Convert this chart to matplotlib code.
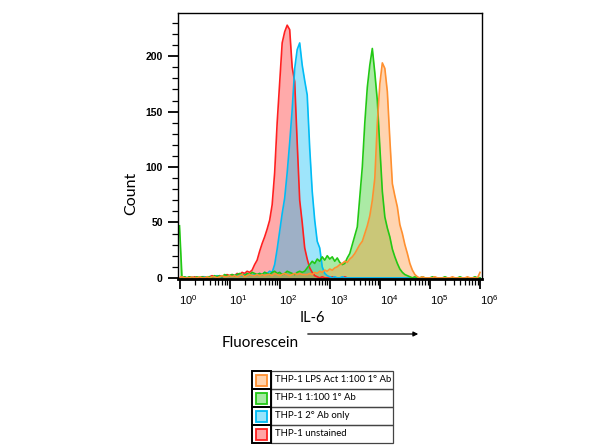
import numpy as np
import matplotlib
matplotlib.use("Agg")
import matplotlib.pyplot as plt
import matplotlib.transforms as mtrans
from matplotlib.patches import Rectangle, FancyArrowPatch
from matplotlib.ticker import MultipleLocator, LogLocator, NullFormatter

# channel grid in log10 units (bin centres), 0.05 decade wide
chan_log = np.round(np.arange(0, 6.0001, 0.05), 2)

unstained = [0, 1, 0, 0, 1, 0, 1, 0, 0, 1,
             1, 0, 1, 2, 1, 1, 2, 1, 2, 3,
             2, 3, 2, 4, 3, 5, 4, 6, 5, 7,
             12, 16, 24, 31, 37, 44, 52, 66, 95, 140,
             176, 212, 222, 228, 224, 190, 177, 122, 70, 50,
             27, 17, 9, 5, 2, 1, 0, 1, 0, 0,
             0, 1, 0, 0, 0, 0, 1, 0, 0, 0,
             0, 0, 0, 0, 0, 0, 0, 0, 0, 0,
             0, 0, 0, 0, 0, 0, 0, 0, 0, 0,
             0, 0, 0, 0, 0, 0, 0, 0, 0, 0,
             0, 0, 0, 0, 0, 0, 0, 0, 0, 0,
             0, 0, 0, 0, 0, 0, 0, 0, 0, 0,
             0]

sec_only = [0, 0, 1, 0, 0, 1, 0, 0, 1, 0,
            1, 0, 1, 1, 0, 2, 1, 1, 2, 1,
            2, 1, 2, 3, 2, 2, 3, 2, 3, 2,
            3, 3, 4, 3, 5, 4, 6, 5, 12, 26,
            42, 58, 72, 95, 122, 152, 189, 206, 212, 192,
            178, 165, 117, 78, 52, 33, 27, 10, 4, 2,
            1, 0, 1, 0, 0, 1, 0, 0, 0, 0,
            0, 0, 0, 0, 0, 0, 0, 0, 0, 0,
            0, 0, 0, 0, 0, 0, 0, 0, 0, 0,
            0, 0, 0, 0, 0, 0, 0, 0, 0, 0,
            0, 0, 0, 0, 0, 0, 0, 0, 0, 0,
            0, 0, 0, 0, 0, 0, 0, 0, 0, 0,
            0]

ab_1_100 = [47, 0, 1, 0, 1, 0, 0, 1, 0, 1,
            0, 1, 1, 0, 2, 1, 2, 1, 3, 2,
            2, 3, 2, 3, 4, 3, 2, 4, 3, 5,
            4, 3, 4, 3, 5, 4, 3, 5, 6, 4,
            5, 3, 4, 6, 5, 4, 3, 5, 6, 5,
            6, 9, 12, 15, 13, 17, 15, 19, 16, 20,
            17, 19, 15, 18, 14, 12, 13, 18, 22, 30,
            38, 46, 73, 100, 140, 172, 192, 207, 185, 160,
            118, 78, 55, 45, 37, 26, 19, 13, 8, 5,
            3, 2, 1, 0, 1, 0, 0, 1, 0, 0,
            0, 1, 0, 0, 0, 0, 1, 0, 0, 0,
            0, 0, 1, 0, 0, 0, 0, 0, 1, 0,
            0]

lps_act = [0, 1, 0, 0, 0, 1, 0, 0, 1, 0,
           0, 1, 0, 1, 1, 0, 1, 2, 1, 1,
           2, 1, 2, 1, 2, 3, 1, 2, 3, 2,
           2, 3, 2, 3, 2, 3, 3, 2, 4, 3,
           2, 3, 4, 3, 2, 3, 4, 3, 4, 3,
           3, 3, 4, 3, 5, 4, 6, 5, 7, 6,
           8, 7, 9, 10, 12, 13, 15, 14, 17, 19,
           22, 26, 30, 33, 40, 47, 56, 70, 90, 140,
           175, 194, 189, 168, 125, 85, 74, 64, 48, 40,
           30, 22, 13, 7, 3, 1, 0, 1, 0, 0,
           0, 0, 1, 0, 0, 0, 0, 0, 0, 1,
           0, 0, 0, 0, 0, 1, 0, 0, 0, 0,
           5]

series = [
    ("THP-1 unstained", unstained, "#ff2020"),
    ("THP-1 2\u00b0 Ab only", sec_only, "#00bcf5"),
    ("THP-1 1:100 1\u00b0 Ab", ab_1_100, "#22c814"),
    ("THP-1 LPS Act 1:100 1\u00b0 Ab", lps_act, "#ff9030"),
]

fig = plt.figure(figsize=(6.0, 4.47), dpi=100)
ax = fig.add_axes([178 / 600, 1 - 279 / 447, 304 / 600, 266 / 447])

x = 10 ** chan_log
for name, counts, col in series:
    ax.fill_between(x, 0, counts, color=col, alpha=0.38, lw=0)
    ax.plot(x, counts, color=col, lw=1.2)

ax.set_xscale("log")
ax.set_xlim(10 ** -0.03, 10 ** 6.04)
ax.set_ylim(-1, 239)

ax.yaxis.set_major_locator(MultipleLocator(50))
ax.yaxis.set_minor_locator(MultipleLocator(10))
ax.xaxis.set_major_locator(LogLocator(base=10, numticks=10))
ax.xaxis.set_minor_locator(LogLocator(base=10, subs=np.arange(2, 10), numticks=100))
ax.xaxis.set_minor_formatter(NullFormatter())
ax.tick_params(axis="both", which="major", direction="out", length=7, width=1.3, labelsize=7.5)
ax.tick_params(axis="both", which="minor", direction="out", length=4, width=0.9)
ax.tick_params(axis="x", which="major", pad=3, labelsize=8)
ax.tick_params(axis="y", which="major", pad=4)
fig.canvas.draw()
shift = mtrans.ScaledTranslation(9 / 100, 0, fig.dpi_scale_trans)
for lab in ax.get_xticklabels():
    lab.set_transform(lab.get_transform() + shift)
    lab.set_family("Liberation Sans")
for lab in ax.get_yticklabels():
    lab.set_fontweight("bold")
    lab.set_family("Liberation Sans")
ax.spines["bottom"].set_linewidth(2)
for s in ["left", "top", "right"]:
    ax.spines[s].set_linewidth(1)

ax.set_ylabel("Count", fontsize=11.5, family="Lato")
ax.yaxis.set_label_coords(-0.13, 0.323)
fig.text(312 / 600, 1 - 318 / 447, "IL-6", fontsize=10.5, family="Lato", ha="center", va="center")
fig.text(222 / 600, 1 - 343 / 447, "Fluorescein", fontsize=11, family="Lato", ha="left", va="center")
fig.add_artist(FancyArrowPatch(
    (305 / 600, 1 - 334 / 447), (421 / 600, 1 - 334 / 447),
    transform=fig.transFigure, arrowstyle="-|>", mutation_scale=7, lw=0.9, color="black"))

# legend drawn as a little table
lg = fig.add_axes([252 / 600, 1 - 443 / 447, 141 / 600, 72 / 447])
lg.set_xlim(0, 141)
lg.set_ylim(0, 72)
lg.axis("off")
row_h = 72 / 4
for k, (name, counts, col) in enumerate(reversed(series)):
    y0 = 72 - (k + 1) * row_h
    lg.add_patch(Rectangle((19, y0), 121.5, row_h, fill=False, ec="#444444", lw=0.9, clip_on=False))
    lg.add_patch(Rectangle((0, y0), 19, row_h, fill=False, ec="black", lw=1.4, clip_on=False))
    lg.add_patch(Rectangle((4, y0 + 3.5), 11, 11, fc=col, alpha=0.4, lw=0))
    lg.add_patch(Rectangle((4, y0 + 3.5), 11, 11, fill=False, ec=col, lw=1.3))
    lg.text(23, y0 + row_h / 2, name, fontsize=6.9, family="Lato", va="center", ha="left")

fig.savefig("out.png", dpi=100)
